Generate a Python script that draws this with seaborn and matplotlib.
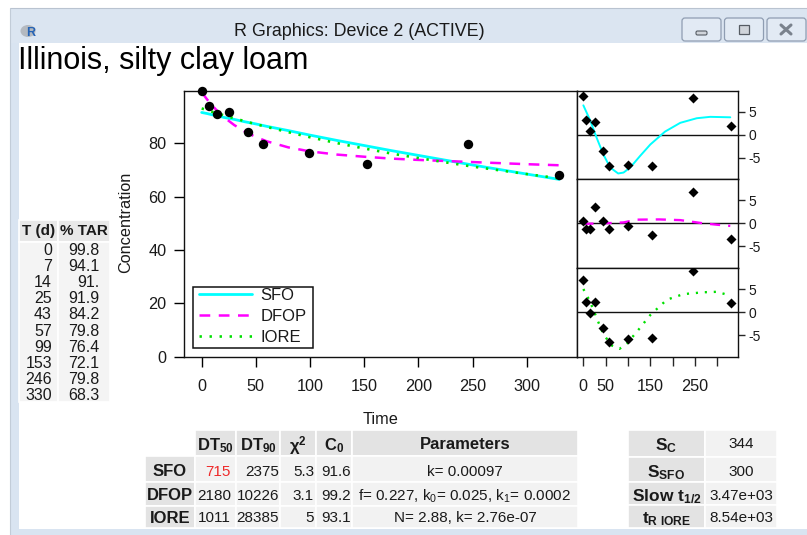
import numpy as np
import pandas as pd
import matplotlib
matplotlib.use("Agg")
import matplotlib.pyplot as plt
import seaborn as sns
from matplotlib.patches import Rectangle, FancyBboxPatch, Ellipse

# ------------------------------------------------------------------ data
times = [0, 7, 14, 25, 43, 57, 99, 153, 246, 330]
tar = [99.8, 94.1, 91.0, 91.9, 84.2, 79.8, 76.4, 72.1, 79.8, 68.3]

# fitted curves
fit_t = [0, 5, 10, 15, 20, 30, 40, 50, 60, 80, 100, 125, 150, 175, 200, 250, 300, 330]
sfo_fit = [91.6, 91.2, 90.7, 90.3, 89.8, 89.0, 88.1, 87.3, 86.4, 84.8, 83.1, 81.1,
           79.2, 77.3, 75.5, 71.9, 68.5, 66.5]
dfop_fit = [99.2, 96.5, 94.1, 91.9, 90.0, 86.9, 84.4, 82.4, 80.8, 78.5, 77.0, 75.8,
            75.0, 74.3, 73.8, 73.0, 72.2, 71.8]
iore_fit = [93.1, 92.5, 91.8, 91.2, 90.6, 89.4, 88.3, 87.2, 86.2, 84.2, 82.3, 80.1,
            78.1, 76.2, 74.5, 71.3, 68.5, 66.9]

# residuals
sfo_res = [8.4, 3.2, 0.8, 2.7, -3.5, -6.8, -6.5, -6.7, 7.9, 1.9]
dfop_res = [0.6, -1.3, -1.3, 3.6, 0.6, -1.3, -0.6, -2.6, 6.8, -3.4]
iore_res = [7.0, 2.1, -0.1, 2.3, -3.5, -6.5, -5.7, -5.5, 8.9, 2.0]

# smoothed residual trends
sfo_sm_t = [0, 15, 30, 45, 60, 78, 90, 105, 127, 150, 183, 217, 254, 284, 329]
sfo_sm_v = [6.4, 3.2, -0.7, -4.3, -7.1, -8.4, -8.2, -7.1, -4.6, -2.1, 0.7, 2.6, 3.6, 3.9, 3.8]
dfop_sm_t = [0, 45, 90, 120, 170, 217, 269, 300, 329]
dfop_sm_v = [-0.1, 0.0, 0.2, 0.8, 0.85, 0.7, 0.0, -0.3, -0.55]
iore_sm_t = [0, 15, 30, 45, 64, 81, 97, 120, 150, 187, 224, 269, 299, 321]
iore_sm_v = [5.0, 2.3, -1.3, -4.8, -7.2, -7.9, -6.8, -4.2, -0.6, 2.7, 3.9, 4.3, 4.4, 3.8]

models = ["SFO", "DFOP", "IORE"]
dt50 = [715, 2180, 1011]
dt90 = [2375, 10226, 28385]
chi2 = [5.3, 3.1, 5]
c0 = [91.6, 99.2, 93.1]
sfo_k = 0.00097
dfop_f, dfop_k0, dfop_k1 = 0.227, 0.025, 0.0002
iore_n, iore_k = 2.88, 2.76e-07

sc, ssfo, slow_half, tr_iore = 344, 300, 3470, 8540

title = "Illinois, silty clay loam"

# ------------------------------------------------------------------ style
sns.set_style("ticks")
plt.rcParams['font.family'] = ['Liberation Sans', 'DejaVu Sans']
plt.rcParams['mathtext.fontset'] = 'custom'
plt.rcParams['mathtext.rm'] = 'Liberation Sans'
plt.rcParams['mathtext.it'] = 'Liberation Sans:italic'
plt.rcParams['mathtext.bf'] = 'Liberation Sans:bold'
plt.rcParams['mathtext.default'] = 'regular'
plt.rcParams['axes.unicode_minus'] = False

W, H = 807, 535
fig = plt.figure(figsize=(W / 100, H / 100), dpi=100)
fig.patch.set_facecolor('white')


def px_axes(x0, y0, x1, y1, **kw):
    return fig.add_axes([x0 / W, 1 - y1 / H, (x1 - x0) / W, (y1 - y0) / H], **kw)


bg = px_axes(0, 0, W, H, zorder=0)
bg.set_xlim(0, W)
bg.set_ylim(H, 0)
bg.axis('off')

fg = px_axes(0, 0, W, H, zorder=10)
fg.set_xlim(0, W)
fg.set_ylim(H, 0)
fg.axis('off')
fg.patch.set_alpha(0)

TXT = '#1a1a1a'
DASH = (0, (4.3, 3.4))
DOT = (0, (0.9, 2.9))

# ------------------------------------------------------------------ window frame
frame_col = '#d9e4f1'
bg.add_patch(Rectangle((10, 8), W - 10, 35, facecolor='#dbe5f1', edgecolor='none'))
bg.add_patch(Rectangle((10, 43), 9, H - 43, facecolor=frame_col, edgecolor='none'))
bg.add_patch(Rectangle((10, 529), W - 10, 6, facecolor=frame_col, edgecolor='none'))
bg.plot([10, W], [8.3, 8.3], color='#b9c3d0', lw=0.8)
bg.plot([10.3, 10.3], [8, H], color='#c2ccd8', lw=0.8)
bg.add_patch(Ellipse((28, 31), 15, 12, facecolor='#b4b9c0', edgecolor='none'))
bg.text(31, 32.5, "R", color='#2563b5', fontsize=9, fontweight='bold',
        ha='center', va='center')
bg.text(359, 31, "R Graphics: Device 2 (ACTIVE)", fontsize=12.9, color=TXT,
        ha='center', va='center')
for bx in (682, 724.5, 767):
    bg.add_patch(FancyBboxPatch((bx, 18), 39, 23, boxstyle="round,pad=0,rounding_size=3",
                                facecolor='#e2eaf4', edgecolor='#8f9db2', lw=0.9))
bg.add_patch(FancyBboxPatch((696, 31), 11, 4, boxstyle="round,pad=0,rounding_size=1.5",
                            facecolor='#d0d4da', edgecolor='#555b63', lw=0.8))
bg.add_patch(Rectangle((739, 25), 10, 9, facecolor='#d0d4da', edgecolor='#555b63', lw=0.9))
bg.plot([781, 791], [25, 34], color='#7a828d', lw=2.2, solid_capstyle='round')
bg.plot([781, 791], [34, 25], color='#7a828d', lw=2.2, solid_capstyle='round')

bg.text(18, 69.5, title, fontsize=22, color='black', ha='left', va='baseline')

# ------------------------------------------------------------------ main plot
ax = px_axes(184, 90.6, 577, 356.7, zorder=2)
sns.lineplot(x=fit_t, y=sfo_fit, ax=ax, color='#00FFFF', lw=2.0, label='SFO',
             estimator=None, sort=False, legend=False)
sns.lineplot(x=fit_t, y=dfop_fit, ax=ax, color='#FF00FF', lw=1.8, label='DFOP',
             estimator=None, sort=False, legend=False, linestyle=DASH)
sns.lineplot(x=fit_t, y=iore_fit, ax=ax, color='#00E000', lw=1.9, label='IORE',
             estimator=None, sort=False, legend=False, linestyle=DOT)
sns.scatterplot(x=times, y=tar, ax=ax, color='black', s=46, linewidth=0, zorder=5,
                legend=False, clip_on=False)
ax.set_xlim(-16.3, 346.4)
ax.set_ylim(0, 99.8)
ax.set_xticks(range(0, 301, 50))
ax.set_yticks([0, 20, 40, 60, 80])
ax.tick_params(axis='both', direction='out', length=7.2, width=1.0, labelsize=11.7,
               colors='black', labelcolor=TXT)
ax.tick_params(axis='x', pad=9)
ax.tick_params(axis='y', pad=5.5)
for sp in ax.spines.values():
    sp.set_linewidth(1.0)
    sp.set_color('#111111')
ax.set_xlabel("Time", fontsize=11.7, color=TXT)
ax.xaxis.set_label_coords(0.501, -0.207)
ax.set_ylabel("Concentration", fontsize=11.7, color=TXT)
ax.yaxis.set_label_coords(-0.13, 0.503)

handles, labels = ax.get_legend_handles_labels()
leg = ax.legend(handles, labels, loc='upper left', bbox_to_anchor=(199.3, 288.2),
                bbox_transform=fg.transData, frameon=False, borderpad=0,
                borderaxespad=0, handlelength=3.14, handletextpad=0.54,
                labelspacing=0.36, fontsize=12)
for t in leg.get_texts():
    t.set_color(TXT)
fg.add_patch(Rectangle((193.3, 286.7), 120, 61, fill=False, edgecolor='#111111', lw=1.1))

# ------------------------------------------------------------------ residual panels
panels = [
    (90.6, 179, sfo_res, sfo_sm_t, sfo_sm_v, '#00FFFF', '-', 1.4),
    (179, 267.7, dfop_res, dfop_sm_t, dfop_sm_v, '#FF00FF', DASH, 1.7),
    (267.7, 356.7, iore_res, iore_sm_t, iore_sm_v, '#00E000', DOT, 1.7),
]
for i, (y0, y1, res, smt, smv, col, ls, lw) in enumerate(panels):
    ra = px_axes(577, y0, 737.7, y1, zorder=2)
    ra.axhline(0, color='#111111', lw=1.0, zorder=1)
    sns.lineplot(x=smt, y=smv, ax=ra, color=col, lw=lw, linestyle=ls,
                 estimator=None, sort=False, legend=False)
    sns.scatterplot(x=times, y=res, ax=ra, marker='D', s=26, color='black',
                    linewidth=0, zorder=5, legend=False)
    ra.set_xlim(-14.2, 345.6)
    ra.set_ylim(-9.6, 9.6)
    ra.yaxis.tick_right()
    ra.set_yticks([-5, 0, 5])
    ra.set_yticklabels(['-5', '0', '5'])
    ra.tick_params(axis='y', direction='out', length=5, width=1.0, labelsize=10,
                   pad=3, labelcolor=TXT)
    for sp in ra.spines.values():
        sp.set_linewidth(1.0)
        sp.set_color('#111111')
    if i < 2:
        ra.set_xticks([])
    else:
        ra.set_xticks(range(0, 301, 50))
        ra.set_xticklabels(['0', '50', '', '150', '', '250', ''])
        ra.tick_params(axis='x', direction='out', length=6.7, width=1.0,
                       labelsize=11.7, pad=9.3, labelcolor=TXT)

# ------------------------------------------------------------------ tables
GRAY = '#e3e3e3'
LIGHT = '#f2f2f2'


def cell(x0, y0, x1, y1, color):
    bg.add_patch(Rectangle((x0, y0), x1 - x0, y1 - y0, facecolor=color,
                           edgecolor='white', lw=1.2))


# left data table
cell(19, 220, 58, 242, '#e8e8e8')
cell(58, 220, 110, 242, '#e8e8e8')
cell(19, 242, 58, 402, '#f4f4f4')
cell(58, 242, 110, 402, '#f4f4f4')
bg.text(38.5, 231, "T (d)", fontsize=11, fontweight='bold', color=TXT,
        ha='center', va='center')
bg.text(84, 231, "% TAR", fontsize=11, fontweight='bold', color=TXT,
        ha='center', va='center')
for i, (tv, cv) in enumerate(zip(times, tar)):
    yy = 250.5 + 16.1 * i
    bg.text(52, yy, f"{tv}", fontsize=11.5, color=TXT, ha='right', va='center')
    bg.text(99.5, yy, f"{cv:.1f}".rstrip('0'), fontsize=11.5, color=TXT,
            ha='right', va='center')

# bottom model table
cols = [145, 195, 236, 280, 316, 352, 578]
rows = [430, 456, 482, 506, 528]
row_cy = [443, 470, 494, 517]
headers = ["DT$_{50}$", "DT$_{90}$", r"$\chi^2$", "C$_0$", "Parameters"]
for j, hd in enumerate(headers):
    cell(cols[j + 1], rows[0], cols[j + 2], rows[1], GRAY)
    bg.text((cols[j + 1] + cols[j + 2]) / 2, row_cy[0], hd, fontsize=12,
            fontweight='bold', color=TXT, ha='center', va='center_baseline')

params = [
    f"k= {sfo_k:g}",
    f"f= {dfop_f:g}, k$_0$= {dfop_k0:g}, k$_1$= {dfop_k1:.4f}",
    f"N= {iore_n:g}, k= {iore_k:.2e}",
]
right_edges = [231, 279, 314, 351]
for i, m in enumerate(models):
    y0, y1 = rows[i + 1], rows[i + 2]
    cy = row_cy[i + 1]
    cell(cols[0], y0, cols[1], y1, GRAY)
    bg.text((cols[0] + cols[1]) / 2, cy, m, fontsize=12, fontweight='bold',
            color=TXT, ha='center', va='center_baseline')
    for j in range(5):
        cell(cols[j + 1], y0, cols[j + 2], y1, LIGHT)
    vals = [f"{dt50[i]}", f"{dt90[i]}", f"{chi2[i]:g}", f"{c0[i]:g}"]
    for j, v in enumerate(vals):
        colr = '#ee2a2a' if (i == 0 and j == 0) else TXT
        bg.text(right_edges[j], cy, v, fontsize=11, color=colr, ha='right',
                va='center_baseline')
    bg.text(465, cy, params[i], fontsize=11, color=TXT, ha='center',
            va='center_baseline')

# right summary table
rcols = [628, 705, 777]
rrows = [430, 457, 482, 505, 528]
rlabels = ["S$_C$", "S$_{SFO}$", "Slow t$_{1/2}$", r"t$_{R\ IORE}$"]
rvals = [f"{sc}", f"{ssfo}", f"{slow_half:.2e}", f"{tr_iore:.2e}"]
for i in range(4):
    cell(rcols[0], rrows[i], rcols[1], rrows[i + 1], GRAY)
    cell(rcols[1], rrows[i], rcols[2], rrows[i + 1], LIGHT)
    bg.text((rcols[0] + rcols[1]) / 2, row_cy[i], rlabels[i], fontsize=12.5,
            fontweight='bold', color=TXT, ha='center', va='center_baseline')
    bg.text((rcols[1] + rcols[2]) / 2, row_cy[i], rvals[i], fontsize=11,
            color=TXT, ha='center', va='center_baseline')

fig.savefig("out.png", dpi=100)
